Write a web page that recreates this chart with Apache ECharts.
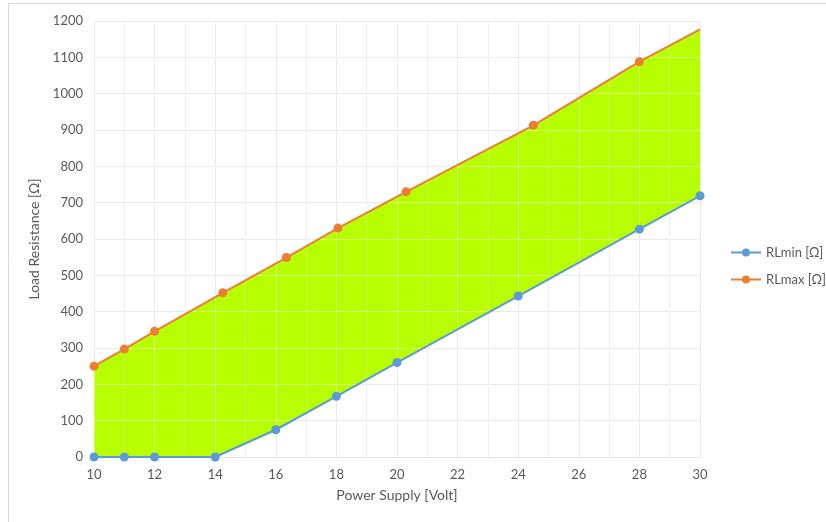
<!DOCTYPE html>
<html>
<head>
<meta charset="utf-8">
<script src="https://cdn.jsdelivr.net/npm/echarts@6/dist/echarts.min.js"></script>
<style>html,body{margin:0;padding:0;background:#fff}#c{width:826px;height:522px}</style>
</head>
<body>
<div id="c"></div>
<script>
// Data
var rlMinX = [10, 11, 12, 14, 16, 18, 20, 24, 28, 30];
var rlMinY = [0, 0, 0, 0, 75, 167, 260, 443, 627, 719];
var rlMaxX = [10, 11, 12, 14.25, 16.35, 18.05, 20.3, 24.5, 28, 30];
var rlMaxY = [250, 297, 346, 452, 549, 630, 730, 913, 1088, 1177];
var seriesNames = ['RLmin [Ω]', 'RLmax [Ω]'];
var xTitle = 'Power Supply [Volt]';
var yTitle = 'Load Resistance [Ω]';

var FONT = 'Lato, "Open Sans", sans-serif';
var TXT = '#595959';

function pairs(xs, ys) { return xs.map(function (x, i) { return [x, ys[i]]; }); }
var minData = pairs(rlMinX, rlMinY);
var maxData = pairs(rlMaxX, rlMaxY).map(function (p, i, arr) {
  return i === arr.length - 1 ? { value: p, symbol: 'none' } : p;
});

var chart = echarts.init(document.getElementById('c'), null, { renderer: 'canvas' });
var xBase = { type: 'value', min: 10, max: 30, interval: 2, gridIndex: 0 };
var yBase = { type: 'value', min: 0, max: 1200, interval: 100, gridIndex: 0 };

chart.setOption({
  animation: false,
  backgroundColor: '#ffffff',
  textStyle: { fontFamily: FONT },
  graphic: [{
    type: 'rect', silent: true, z: -1,
    shape: { x: 8.5, y: 3.5, width: 840, height: 540 },
    style: { fill: 'none', stroke: '#d9d9d9', lineWidth: 1 }
  }],
  grid: { left: 94, right: 126, top: 21, bottom: 65, containLabel: false },
  legend: {
    orient: 'vertical', left: 730, top: 246, itemGap: 14, padding: 0,
    itemWidth: 30, itemHeight: 10,
    textStyle: { color: TXT, fontSize: 13, fontFamily: FONT },
    data: seriesNames
  },
  xAxis: [
    Object.assign({}, xBase, {
      name: xTitle, nameLocation: 'middle', nameGap: 31,
      nameTextStyle: { color: TXT, fontSize: 14, fontFamily: FONT },
      axisLine: { show: true, lineStyle: { color: '#d0d0d0', width: 1 } },
      axisTick: { show: false },
      axisLabel: { color: TXT, fontSize: 13, margin: 11, fontFamily: FONT },
      splitLine: { show: true, lineStyle: { color: '#d9d9d9', width: 1 } },
      minorTick: { show: false, splitNumber: 2 },
      minorSplitLine: { show: true, lineStyle: { color: '#e8e8e8', width: 1 } }
    }),
    Object.assign({}, xBase, {
      z: 2.5, position: 'top',
      axisLine: { show: false }, axisTick: { show: false }, axisLabel: { show: false },
      splitLine: { show: true, lineStyle: { color: 'rgba(255,255,255,0.45)', width: 1 } },
      minorTick: { show: false, splitNumber: 2 },
      minorSplitLine: { show: true, lineStyle: { color: 'rgba(255,255,255,0.3)', width: 1 } }
    })
  ],
  yAxis: [
    Object.assign({}, yBase, {
      name: yTitle, nameLocation: 'middle', nameGap: 50,
      nameTextStyle: { color: TXT, fontSize: 14, fontFamily: FONT },
      axisLine: { show: false }, axisTick: { show: false },
      axisLabel: { color: TXT, fontSize: 13, margin: 11, fontFamily: FONT,
        formatter: function (v) { return String(v); } },
      splitLine: { show: true, lineStyle: { color: '#d9d9d9', width: 1 } }
    }),
    Object.assign({}, yBase, {
      z: 2.5, position: 'right',
      axisLine: { show: false }, axisTick: { show: false }, axisLabel: { show: false },
      splitLine: { show: true, lineStyle: { color: 'rgba(255,255,255,0.45)', width: 1 } }
    })
  ],
  series: [
    {
      type: 'custom', name: 'band', z: 1, silent: true,
      xAxisIndex: 0, yAxisIndex: 0,
      data: [[10, 0]],
      renderItem: function (params, api) {
        var pts = [];
        rlMaxX.forEach(function (x, i) { pts.push(api.coord([x, rlMaxY[i]])); });
        for (var i = rlMinX.length - 1; i >= 0; i--) pts.push(api.coord([rlMinX[i], rlMinY[i]]));
        return { type: 'polygon', shape: { points: pts }, style: { fill: '#b7ff00', stroke: 'none' } };
      }
    },
    {
      type: 'line', name: seriesNames[0], z: 4, data: minData,
      xAxisIndex: 0, yAxisIndex: 0,
      symbol: 'circle', symbolSize: 9, showAllSymbol: true,
      itemStyle: { color: '#5b9bd5' },
      lineStyle: { color: '#5b9bd5', width: 2 }
    },
    {
      type: 'line', name: seriesNames[1], z: 4, data: maxData,
      xAxisIndex: 0, yAxisIndex: 0,
      symbol: 'circle', symbolSize: 9, showAllSymbol: true,
      itemStyle: { color: '#ed7d31' },
      lineStyle: { color: '#ed7d31', width: 2 }
    }
  ]
});
</script>
</body>
</html>
